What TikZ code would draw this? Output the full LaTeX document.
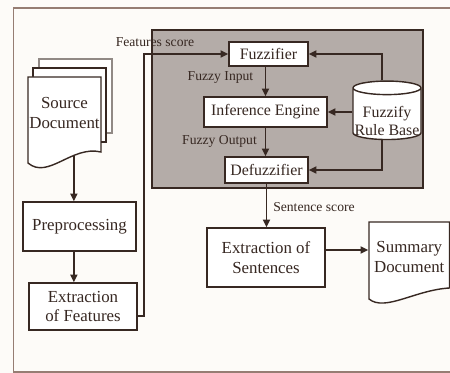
\documentclass[tikz,border=0pt]{standalone}
\usepackage{fontspec}
\setmainfont{Liberation Serif}
\usetikzlibrary{shapes.geometric,arrows.meta,calc}
\definecolor{ink}{RGB}{55,40,34}
\definecolor{panel}{RGB}{180,172,168}
\definecolor{paper}{RGB}{253,251,248}
\definecolor{rim}{RGB}{150,125,115}
\begin{document}
\begin{tikzpicture}
[align=center,x=0.025cm,y=-0.025cm,line width=1pt,color=ink,
 box/.style={draw=ink,fill=white,inner sep=1pt,font=\fontsize{12}{14}\selectfont},
 fbox/.style={box,font=\fontsize{11.3}{13}\selectfont},
 lbl/.style={font=\fontsize{9.7}{11}\selectfont},
 arr/.style={line width=1.3pt,-{Triangle[length=5.5pt,width=5pt]}},
 sheet/.style={draw=ink,fill=white}]
 \fill[paper] (0,0) rectangle (450,373);
 \useasboundingbox (0,0) rectangle (450,373);
 \draw[rim,line width=0.8pt] (455,8) -- (13.5,8) -- (13.5,372) -- (455,372);
 \draw[fill=panel,line width=0.8pt] (152,30) rectangle (423,188);

 \node (fuzz) [fbox,minimum width=1.975cm,minimum height=0.6cm] at (268.5,54) {Fuzzifier};
 \node (infer) [fbox,minimum width=3.075cm,minimum height=0.75cm] at (265.5,112) {Inference Engine};
 \node (defuzz) [fbox,minimum width=2.075cm,minimum height=0.65cm] at (266.5,170) {Defuzzifier};
 \node (rules) [fbox,cylinder,shape border rotate=90,aspect=0.2,minimum width=1.7cm,minimum height=1.35cm] at (387,115)
   {\raisebox{-0.2cm}[\height][\depth]{\begin{tabular}{@{}c@{}}Fuzzify\\Rule Base\end{tabular}}};

 \draw[sheet,draw=ink!55] (39,59) rectangle (112,133);
 \draw[sheet] (33,68) rectangle (106,142);
 \draw[sheet] (101,152) .. controls (72,145) and (48,180) .. (28,163) coordinate[pos=0.33] (srcfoot) -- (28,77) -- (101,77) -- cycle;
 \node (src) [box,draw=none,fill=none] at (64.5,113) {Source\\Document};

 \draw[sheet] (449.5,288) .. controls (415,290) and (385,312) .. (369,299) -- (369,222) -- (449.5,222) -- cycle;
 \node (summ) [box,draw=none,fill=none,minimum width=2.0125cm] at (409.25,257) {Summary\\Document};

 \node (pre) [box,minimum width=2.825cm,minimum height=1.225cm] at (79.5,226.5) {Preprocessing};
 \node (feat) [box,minimum width=2.7cm,minimum height=1.175cm] at (83,306.5) {Extraction\\of Features};
 \node (sent) [box,minimum width=2.95cm,minimum height=1.475cm] at (266,257.5) {Extraction of\\Sentences};

 \node (featsc) [lbl] at (155,42) {Features score};
 \node (fin) [lbl] at (220.5,78) {Fuzzy Input};
 \node (fout) [lbl] at (219.5,141) {Fuzzy Output};
 \node (sentsc) [lbl] at (314,207) {Sentence score};

 \draw[arr] (srcfoot) -- (pre.north -| srcfoot);
 \draw[arr] (pre.south -| srcfoot) -- (feat.north -| srcfoot);
 \draw[arr] (feat.east |- 0,316) -- (144,316) |- (fuzz.west);
 \draw[arr] (infer.north |- fuzz.south) -- (infer.north);
 \draw[arr] (infer.south) -- (infer.south |- defuzz.north);
 \draw[arr] ($(rules.north)+(-5,0)$) |- (fuzz.east);
 \draw[arr] (rules.west |- infer.east) -- (infer.east);
 \draw[arr] ($(rules.south)+(-5,0)$) |- (defuzz.east);
 \draw[arr] (defuzz.south) -- (defuzz.south |- sent.north);
 \draw[arr] (sent.east |- 0,250) -- (summ.west |- 0,250);
\end{tikzpicture}
\end{document}
